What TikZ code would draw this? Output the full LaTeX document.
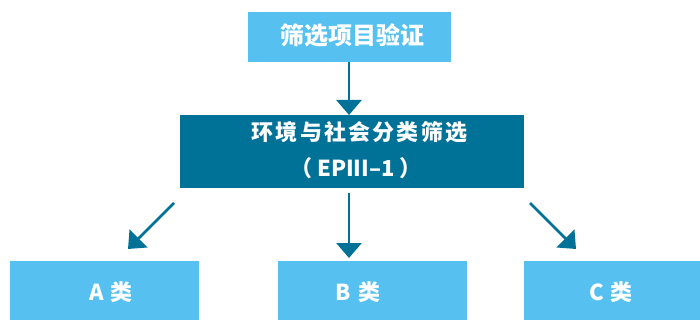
\documentclass[tikz,border=0pt]{standalone}
\usepackage{fontspec}
\setmainfont{Noto Sans CJK SC}
\newfontfamily\cjkwide{Noto Sans CJK SC}[LetterSpace=10]
\usetikzlibrary{arrows.meta}
\definecolor{lightblue}{RGB}{86,193,240}
\definecolor{darkteal}{RGB}{0,114,152}
\tikzset{
  box/.style={fill=#1, draw=none, inner sep=0pt, outer sep=0pt, anchor=center},
  lbl/.style={text=white, font=\bfseries\fontsize{22}{26}\selectfont, inner sep=0pt},
  conn/.style={draw=darkteal, line width=2.8pt, -{Triangle[width=25pt,length=15pt]}, shorten >=0pt}
}
\begin{document}
\begin{tikzpicture}[x=1pt,y=-1pt]
\useasboundingbox (0,0) rectangle (700,320);
\clip (0,0) rectangle (700,320);
% boxes
\node[box=lightblue, minimum width=203pt, minimum height=50pt] (top) at (349.5,37) {};
\node[box=darkteal, minimum width=344pt, minimum height=73pt] (mid) at (352,151.5) {};
\node[box=lightblue, minimum width=189pt, minimum height=59pt] (A) at (104.5,290.5) {};
\node[box=lightblue, minimum width=189pt, minimum height=59pt] (B) at (372.5,290.5) {};
\node[box=lightblue, minimum width=189pt, minimum height=59pt] (C) at (618.5,290.5) {};
% labels
\node[lbl, font=\bfseries\fontsize{24}{28}\selectfont] (tl) at (352,35) {筛选项目验证};
\node[lbl, font=\cjkwide\bfseries\fontsize{22}{26}\selectfont] (ml1) at (359.5,132) {环境与社会分类筛选};
\node[lbl] (ml2) at (356,168) {（ EPIII–1 ）};
\node[lbl] (al) at (111,292) {A\hspace{7pt}类};
\node[lbl] (bl) at (358,292) {B\hspace{7pt}类};
\node[lbl] (cl) at (611,292) {C\hspace{7pt}类};
% connector end points
\coordinate (a0) at (174,203);
\coordinate (a1) at (128,249);
\coordinate (b0) at (349,193);
\coordinate (b1) at (349,258);
\coordinate (c0) at (530,203);
\coordinate (c1) at (576,249);
% connectors
\draw[conn] (top.south -| 349,0) -- (349,0 |- mid.north);
\draw[conn] (a0) -- (a1);
\draw[conn] (b0) -- (b1);
\draw[conn] (c0) -- (c1);
\end{tikzpicture}
\end{document}
